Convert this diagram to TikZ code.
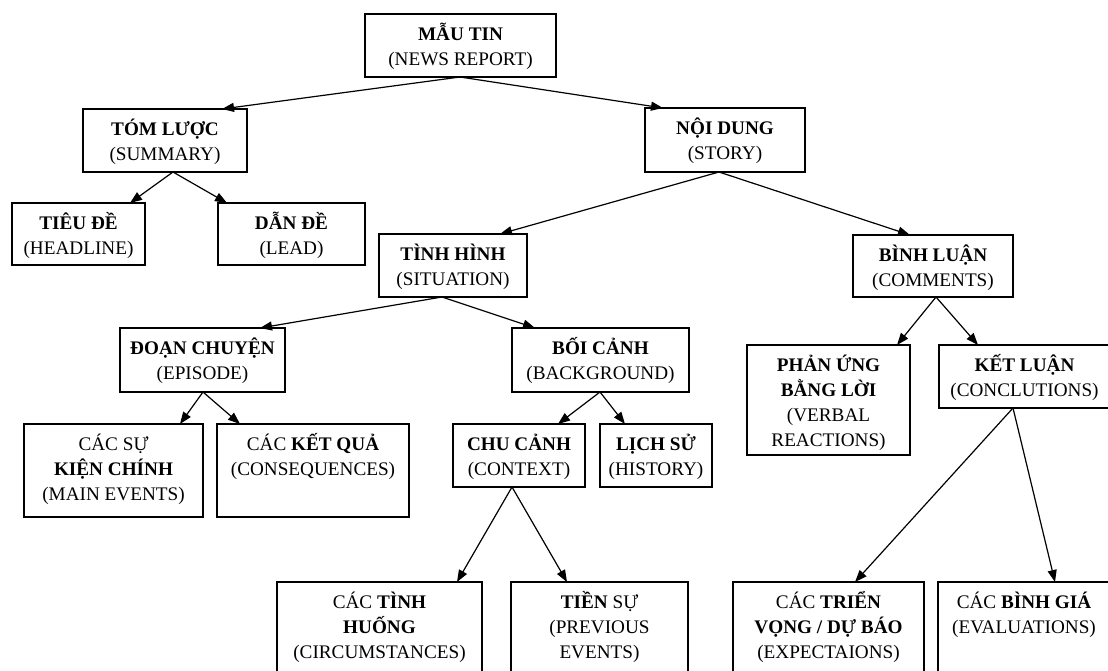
\documentclass[tikz,border=0pt]{standalone}
\usepackage{fontspec}
\setmainfont{Liberation Serif}
\usetikzlibrary{arrows.meta}

\tikzset{
  x=1pt, y=-1pt,
  box/.style={draw=black, line width=1.2pt, anchor=north west,
    inner sep=0pt, outer sep=0pt},
  lbl/.style={anchor=north, align=center, inner sep=0pt,
    font=\fontsize{19.2}{25}\selectfont},
  arr/.style={line width=1.2pt, -{Triangle[length=12pt,width=9pt]}},
}

% \tnode{name}{left}{top}{right}{bottom}{text}: a framed box with its
% label set from the top edge down
\newcommand\tnode[6]{%
  \node[box, minimum width={#4-#2}, minimum height={#5-#3}] (#1) at (#2,#3) {};
  \node[lbl] (#1t) at ([yshift=-8.5pt]#1.north) {\rule{0pt}{18pt}#6};
}

\begin{document}
\begin{tikzpicture}
\useasboundingbox (0,0) rectangle (1108,671);
\fill[white] (0,0) rectangle (1108,671);
\clip (0,0) rectangle (1108,671);

% level 0
\tnode{mau}{365}{14}{556}{77}{\textbf{MẪU TIN}\\(NEWS REPORT)}
% level 1
\tnode{tom}{83}{109}{247}{172}{\textbf{TÓM LƯỢC}\\(SUMMARY)}
\tnode{noi}{645}{108}{805}{172}{\textbf{NỘI DUNG}\\(STORY)}
% level 2
\tnode{tieu}{12}{203}{145}{265}{\textbf{TIÊU ĐỀ}\\(HEADLINE)}
\tnode{dan}{218}{203}{365}{265}{\textbf{DẪN ĐỀ}\\(LEAD)}
\tnode{tinh}{379}{234}{527}{297}{\textbf{TÌNH HÌNH}\\(SITUATION)}
\tnode{binh}{853}{235}{1013}{297}{\textbf{BÌNH LUẬN}\\(COMMENTS)}
% level 3
\tnode{doan}{120}{328}{285}{392}{\textbf{ĐOẠN CHUYỆN}\\(EPISODE)}
\tnode{boi}{512}{328}{689}{392}{\textbf{BỐI CẢNH}\\(BACKGROUND)}
\tnode{phan}{747}{345}{910}{455}{\textbf{PHẢN ỨNG}\\\textbf{BẰNG LỜI}\\(VERBAL\\REACTIONS)}
\tnode{ket}{939}{345}{1110}{408}{\textbf{KẾT LUẬN}\\(CONCLUTIONS)}
% level 4
\tnode{cacsu}{24}{424}{203}{517}{CÁC SỰ\\\textbf{KIỆN CHÍNH}\\(MAIN EVENTS)}
\tnode{ketqua}{217}{424}{409}{517}{CÁC \textbf{KẾT QUẢ}\\(CONSEQUENCES)}
\tnode{chu}{453}{424}{585}{487}{\textbf{CHU CẢNH}\\(CONTEXT)}
\tnode{lich}{600}{424}{712}{487}{\textbf{LỊCH SỬ}\\(HISTORY)}
% level 5
\tnode{huong}{277}{582}{482}{700}{CÁC \textbf{TÌNH}\\\textbf{HUỐNG}\\(CIRCUMSTANCES)}
\tnode{tien}{511}{582}{688}{700}{\textbf{TIỀN} SỰ\\(PREVIOUS\\EVENTS)}
\tnode{trien}{733}{582}{924}{700}{CÁC \textbf{TRIỂN}\\\textbf{VỌNG / DỰ BÁO}\\(EXPECTAIONS)}
\tnode{gia}{938}{582}{1110}{700}{CÁC \textbf{BÌNH GIÁ}\\(EVALUATIONS)}

% connectors
\draw[arr] ([xshift=95pt]mau.south west) -- ([xshift=139pt]tom.north west);
\draw[arr] ([xshift=95pt]mau.south west) -- ([xshift=18pt]noi.north west);
\draw[arr] ([xshift=90pt]tom.south west) -- ([xshift=118pt]tieu.north west);
\draw[arr] ([xshift=90pt]tom.south west) -- ([xshift=9pt]dan.north west);
\draw[arr] ([xshift=74pt]noi.south west) -- ([xshift=121pt]tinh.north west);
\draw[arr] ([xshift=74pt]noi.south west) -- ([xshift=57pt]binh.north west);
\draw[arr] ([xshift=63pt]tinh.south west) -- ([xshift=140pt]doan.north west);
\draw[arr] ([xshift=63pt]tinh.south west) -- ([xshift=23pt]boi.north west);
\draw[arr] ([xshift=83pt]doan.south west) -- ([xshift=156pt]cacsu.north west);
\draw[arr] ([xshift=83pt]doan.south west) -- ([xshift=23pt]ketqua.north west);
\draw[arr] ([xshift=88pt]boi.south west) -- ([xshift=105pt]chu.north west);
\draw[arr] ([xshift=88pt]boi.south west) -- ([xshift=25pt]lich.north west);
\draw[arr] ([xshift=59pt]chu.south west) -- ([xshift=180pt]huong.north west);
\draw[arr] ([xshift=59pt]chu.south west) -- ([xshift=56pt]tien.north west);
\draw[arr] ([xshift=83pt]binh.south west) -- ([xshift=150pt]phan.north west);
\draw[arr] ([xshift=83pt]binh.south west) -- ([xshift=39pt]ket.north west);
\draw[arr] ([xshift=74pt]ket.south west) -- ([xshift=122pt]trien.north west);
\draw[arr] ([xshift=74pt]ket.south west) -- ([xshift=117pt]gia.north west);
\end{tikzpicture}
\end{document}
